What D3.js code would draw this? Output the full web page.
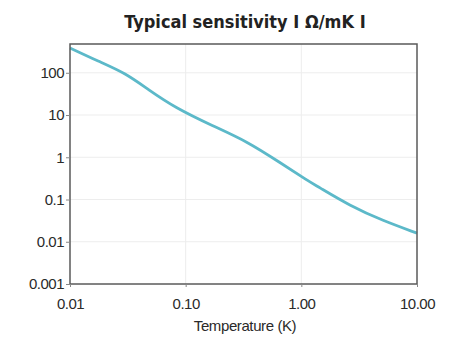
<!DOCTYPE html>
<html><head><meta charset="utf-8">
<script src="https://cdn.jsdelivr.net/npm/d3@7"></script>
<style>body{margin:0;background:#fff;}svg{display:block;}</style>
</head><body>
<script>
const temperature = [0.01, 0.0176, 0.03, 0.0475, 0.081, 0.172, 0.337, 0.653, 1.14, 1.36, 2.63, 5.07, 10];
const sensitivity = [386, 187, 99, 40, 14.9, 5.5, 2.4, 0.75, 0.276, 0.21, 0.071, 0.0315, 0.016];
const xTicks = [0.01, 0.1, 1, 10];
const xTickLabels = ["0.01", "0.10", "1.00", "10.00"];
const yTicks = [0.001, 0.01, 0.1, 1, 10, 100];
const yTickLabels = ["0.001", "0.01", "0.1", "1", "10", "100"];
const title = "Typical sensitivity I \u03A9/mK I";
const xTitle = "Temperature (K)";

const W = 450, H = 337;
const m = {left: 70, right: 33, top: 44, bottom: 53};
const svg = d3.select("body").append("svg").attr("width", W).attr("height", H);
const x = d3.scaleLog().domain([0.01, 10]).range([m.left, W - m.right]);
const y = d3.scaleLog().domain([0.001, 480]).range([H - m.bottom, m.top]);

// grid
svg.append("g").selectAll("line").data(yTicks.slice(1)).join("line")
  .attr("x1", m.left).attr("x2", W - m.right)
  .attr("y1", d => y(d)).attr("y2", d => y(d))
  .attr("stroke", "#ededed").attr("stroke-width", 1);
svg.append("g").selectAll("line").data(xTicks.slice(1, -1)).join("line")
  .attr("y1", m.top).attr("y2", H - m.bottom)
  .attr("x1", d => x(d)).attr("x2", d => x(d))
  .attr("stroke", "#ededed").attr("stroke-width", 1);

// line
const line = d3.line().x((d, i) => x(temperature[i])).y(d => y(d)).curve(d3.curveBasis);
svg.append("path").datum(sensitivity).attr("d", line)
  .attr("fill", "none").attr("stroke", "#5cb9c9").attr("stroke-width", 2.8);

// frame
svg.append("rect").attr("x", m.left).attr("y", m.top)
  .attr("width", W - m.right - m.left).attr("height", H - m.bottom - m.top)
  .attr("fill", "none").attr("stroke", "#5a5a5a").attr("stroke-width", 1.5);

// axes
const font = "'Liberation Sans', Arial, sans-serif";
const yAxis = d3.axisLeft(y).tickValues(yTicks).tickSize(4).tickPadding(2)
  .tickFormat((d, i) => yTickLabels[i]);
const gy = svg.append("g").attr("transform", `translate(${m.left},0)`).call(yAxis);
const xAxis = d3.axisBottom(x).tickValues(xTicks).tickSize(3).tickPadding(11)
  .tickFormat((d, i) => xTickLabels[i]);
const gx = svg.append("g").attr("transform", `translate(0,${H - m.bottom})`).call(xAxis);
[gx, gy].forEach(g => {
  g.select(".domain").remove();
  g.selectAll(".tick line").attr("stroke", "#888");
  g.selectAll(".tick text").attr("fill", "#2a2a2a").style("font-family", font)
    .style("font-size", "15px").style("letter-spacing", "-0.5px");
});

svg.append("text").attr("x", 245).attr("y", 331).attr("text-anchor", "middle")
  .attr("fill", "#2a2a2a").style("font-family", font).style("font-size", "15px")
  .style("letter-spacing", "-0.4px").text(xTitle);

svg.append("text").attr("x", 245).attr("y", 28).attr("text-anchor", "middle")
  .attr("fill", "#222").style("font-family", "'Liberation Sans Narrow', 'DejaVu Sans Condensed', sans-serif")
  .style("font-weight", "bold").style("font-size", "18px").text(title);
</script>
</body></html>
